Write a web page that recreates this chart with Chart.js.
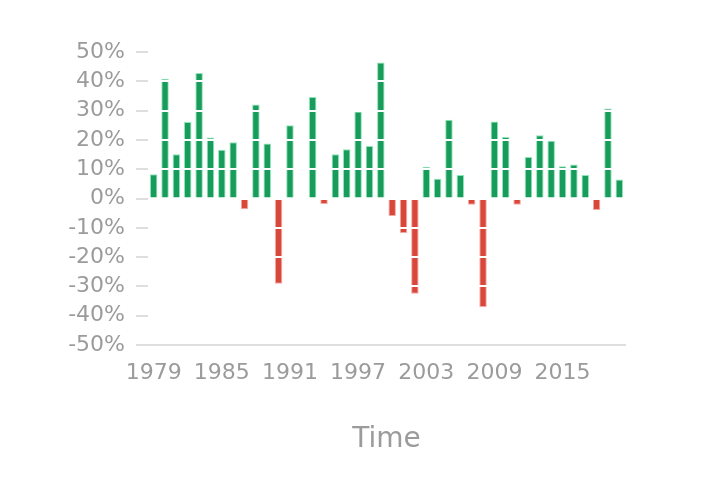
<!DOCTYPE html>
<html>
<head>
<meta charset="utf-8">
<script src="https://cdn.jsdelivr.net/npm/chart.js@4/dist/chart.umd.min.js"></script>
<style>
  html, body { margin: 0; padding: 0; background: #fff; }
  #wrap { width: 720px; height: 485px; }
</style>
</head>
<body>
<div id="wrap"><canvas id="c" width="720" height="485"></canvas></div>
<script>
const years = [];
for (let y = 1979; y <= 2020; y++) years.push(String(y));
const returns = [8.3, 40.9, 15.1, 26.1, 42.8, 20.8, 16.6, 19.2, -3.7, 32.1,
  18.8, -29.1, 25.0, 0.3, 34.6, -1.9, 15.1, 16.8, 29.7, 17.9,
  46.4, -6.0, -11.8, -32.5, 10.8, 6.7, 26.9, 8.0, -2.1, -37.0,
  26.3, 21.0, -2.1, 14.2, 21.6, 19.7, 11.0, 11.6, 8.0, -3.9,
  30.7, 6.5];
const yMin = -50, yMax = 50, yStep = 10;

const GREEN = '#179c5b', GREEN_B = '#8fe6b6';
const RED = '#d9473a', RED_B = '#f3aaa4';
const GREY = '#9b9b9b';

const whiteGrid = {
  id: 'whiteGrid',
  afterDatasetsDraw(chart) {
    const { ctx, chartArea, scales: { y } } = chart;
    ctx.save();
    ctx.strokeStyle = '#ffffff';
    ctx.lineWidth = 2;
    y.ticks.forEach(t => {
      if (t.value === yMin) return;
      const py = Math.round(y.getPixelForValue(t.value));
      ctx.beginPath();
      ctx.moveTo(chartArea.left, py);
      ctx.lineTo(chartArea.right, py);
      ctx.stroke();
    });
    ctx.restore();
  }
};

new Chart(document.getElementById('c'), {
  type: 'bar',
  data: {
    labels: years,
    datasets: [{
      data: returns,
      backgroundColor: returns.map(v => v >= 0 ? GREEN : RED),
      borderColor: returns.map(v => v >= 0 ? GREEN_B : RED_B),
      borderWidth: 1,
      barPercentage: 0.66,
      categoryPercentage: 1.0
    }]
  },
  plugins: [whiteGrid],
  options: {
    responsive: false,
    animation: false,
    devicePixelRatio: 1,
    layout: { padding: { top: 52, right: 95, bottom: 28, left: 0 } },
    plugins: { legend: { display: false }, tooltip: { enabled: false } },
    scales: {
      x: {
        grid: { display: false, drawTicks: false },
        border: { display: true, color: '#dedede', width: 2 },
        ticks: {
          autoSkip: false,
          maxRotation: 0,
          padding: 15,
          color: GREY,
          font: { family: 'DejaVu Sans', size: 22 },
          callback: function(v, i) { return i % 6 === 0 ? this.getLabelForValue(v) : ''; }
        },
        title: {
          display: true, text: 'Time', color: GREY,
          font: { family: 'DejaVu Sans', size: 28 },
          padding: { top: 0, bottom: 0 }
        },
        afterFit: s => { s.height = 112; }
      },
      y: {
        min: yMin, max: yMax,
        grid: { color: '#ffffff', lineWidth: 2, tickColor: '#dedede', tickLength: 12, drawTicks: true },
        border: { display: false },
        ticks: {
          stepSize: yStep,
          autoSkip: false,
          padding: 11,
          color: GREY,
          font: { family: 'DejaVu Sans', size: 22 },
          callback: v => v + '%'
        },
        afterFit: s => { s.width = 148; }
      }
    }
  }
});
</script>
</body>
</html>
